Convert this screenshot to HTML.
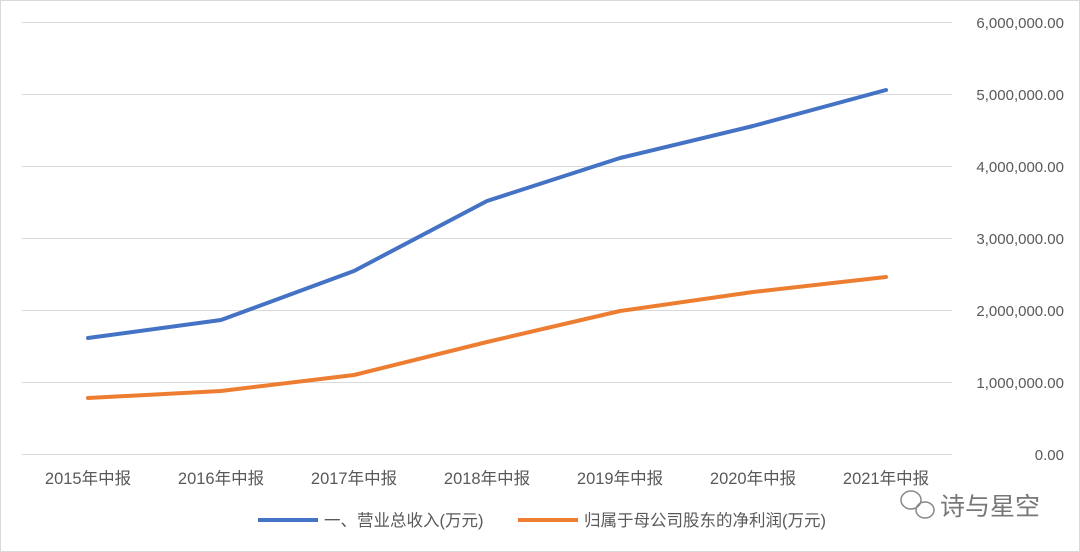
<!DOCTYPE html>
<html><head><meta charset="utf-8"><style>
html,body{margin:0;padding:0;background:#fff;}
svg{display:block;}
text{font-family:"Liberation Sans","Noto Sans CJK SC",sans-serif;fill:#595959;font-size:15px;}
.c{font-size:16.5px;}
</style></head><body>
<svg width="1080" height="552" viewBox="0 0 1080 552">
<rect x="0.5" y="0.5" width="1079" height="551" fill="#fff" stroke="#d9d9d9"/>
<g stroke="#d9d9d9" stroke-width="1">
<line x1="22" y1="22.5" x2="952" y2="22.5"/>
<line x1="22" y1="94.5" x2="952" y2="94.5"/>
<line x1="22" y1="166.5" x2="952" y2="166.5"/>
<line x1="22" y1="238.5" x2="952" y2="238.5"/>
<line x1="22" y1="310.5" x2="952" y2="310.5"/>
<line x1="22" y1="382.5" x2="952" y2="382.5"/>
<line x1="22" y1="454.5" x2="952" y2="454.5"/>
</g>
<g text-anchor="end">
<text x="1064" y="28">6,000,000.00</text>
<text x="1064" y="100">5,000,000.00</text>
<text x="1064" y="172">4,000,000.00</text>
<text x="1064" y="244">3,000,000.00</text>
<text x="1064" y="316">2,000,000.00</text>
<text x="1064" y="388">1,000,000.00</text>
<text x="1064" y="460">0.00</text>
</g>
<g text-anchor="middle" class="c">
<text class="c" x="88" y="484">2015年中报</text>
<text class="c" x="221" y="484">2016年中报</text>
<text class="c" x="354" y="484">2017年中报</text>
<text class="c" x="487" y="484">2018年中报</text>
<text class="c" x="620" y="484">2019年中报</text>
<text class="c" x="753" y="484">2020年中报</text>
<text class="c" x="886" y="484">2021年中报</text>
</g>
<polyline fill="none" stroke="#4472c4" stroke-width="4" stroke-linejoin="round" stroke-linecap="round" points="88,338 221,320 354,271 487,201 620,158 753,126 886,90"/>
<polyline fill="none" stroke="#ed7d31" stroke-width="4" stroke-linejoin="round" stroke-linecap="round" points="88,398 221,391 354,375 487,342 620,311 753,292 886,277"/>
<line x1="258" y1="520" x2="318" y2="520" stroke="#4472c4" stroke-width="4"/>
<text class="c" x="324" y="526">一、营业总收入(万元)</text>
<line x1="518" y1="520" x2="578" y2="520" stroke="#ed7d31" stroke-width="4"/>
<text class="c" x="584" y="526">归属于母公司股东的净利润(万元)</text>
<g fill="none" stroke="#888" stroke-width="1.5">
<ellipse cx="911" cy="500" rx="10" ry="9"/>
<ellipse cx="925" cy="510" rx="9" ry="8"/>
</g>
<text x="940" y="515" style="font-size:25px;fill:#777">诗与星空</text>
</svg>
</body></html>
